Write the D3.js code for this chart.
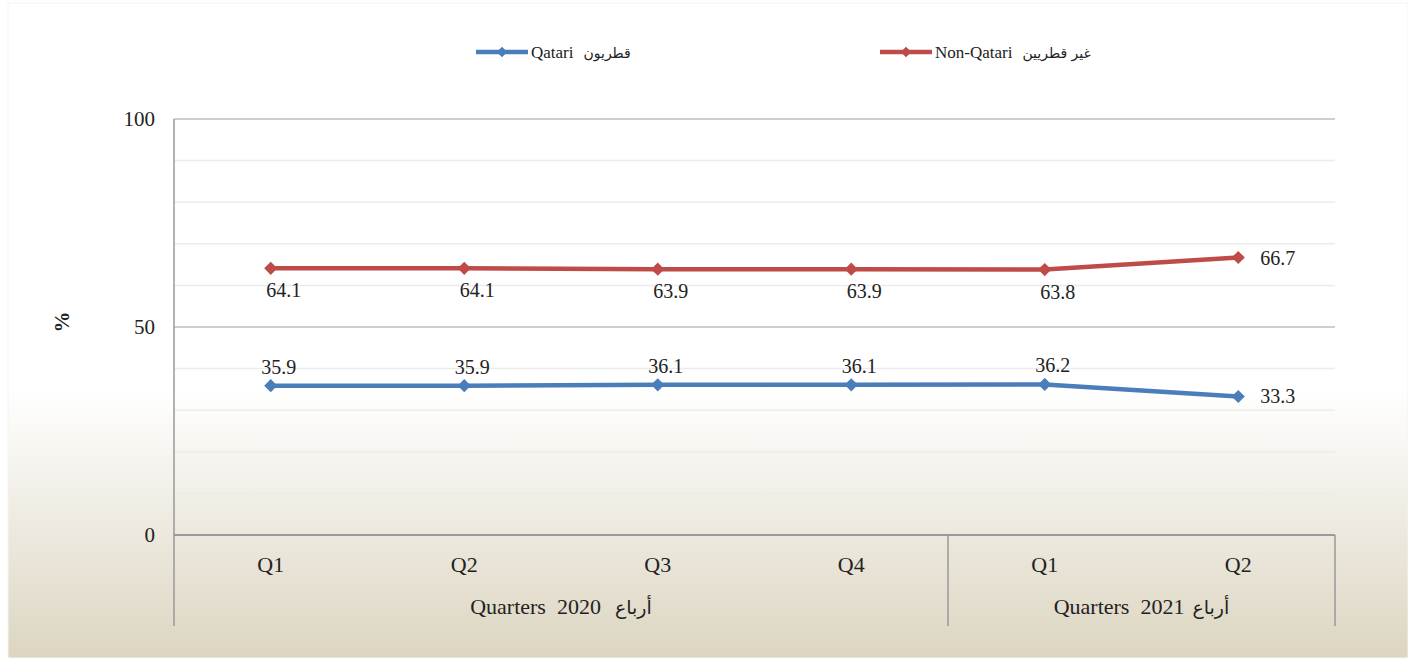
<!DOCTYPE html>
<html>
<head>
<meta charset="utf-8">
<script src="https://cdn.jsdelivr.net/npm/d3@7"></script>
<style>
  body { margin: 0; background: #fff; }
  svg text { font-family: "Liberation Serif", "Times New Roman", serif; white-space: pre; }
  svg text.ar { font-family: "DejaVu Sans", sans-serif; }
</style>
</head>
<body>
<div class="chartDiv"></div>
<script>
// data
var quarters   = ["Q1", "Q2", "Q3", "Q4", "Q1", "Q2"];
var groups     = [{en: "Quarters  2020", ar: "أرباع", from: 0, to: 4},
                  {en: "Quarters  2021", ar: "أرباع", from: 4, to: 6}];
var qatari     = [35.9, 35.9, 36.1, 36.1, 36.2, 33.3];
var nonQatari  = [64.1, 64.1, 63.9, 63.9, 63.8, 66.7];
var yTicks     = [0, 50, 100];
var seriesEn   = ["Qatari", "Non-Qatari"];
var seriesAr   = ["قطريون", "غير قطريين"];

var width = 1408, height = 658;
var margin = {top: 119, right: 73, bottom: 123, left: 174};

var svg = d3.select(".chartDiv").append("svg")
  .attr("width", width).attr("height", height);

// background gradient
var grad = svg.append("defs").append("linearGradient")
  .attr("id", "bg").attr("x1", 0).attr("y1", 0).attr("x2", 0).attr("y2", 1);
grad.append("stop").attr("offset", "0%").attr("stop-color", "#ffffff");
grad.append("stop").attr("offset", "59%").attr("stop-color", "#ffffff");
grad.append("stop").attr("offset", "100%").attr("stop-color", "#dcd5c1");
svg.append("rect").attr("x", 8).attr("y", 3).attr("width", width - 8).attr("height", height - 3)
  .attr("fill", "url(#bg)").attr("stroke", "#f3f3f3");

var x = d3.scaleBand().domain(d3.range(quarters.length))
  .range([margin.left, width - margin.right]);
var y = d3.scaleLinear().domain([0, 100]).range([height - margin.bottom, margin.top]);

// english + arabic label pair, laid out left to right
function bilingual(g, en, ar, cx, cy, enSize, arSize, gap, anchorStart){
  var t1 = g.append("text").attr("y", cy).attr("font-size", enSize).attr("fill", "#222").text(en);
  var t2 = g.append("text").attr("class", "ar").attr("y", cy).attr("font-size", arSize)
    .attr("fill", "#222").attr("direction", "rtl").attr("text-anchor", "end").text(ar);
  var w1 = t1.node().getComputedTextLength(), w2 = t2.node().getComputedTextLength();
  var x0 = anchorStart ? cx : cx - (w1 + gap + w2) / 2;
  t1.attr("x", x0);
  t2.attr("x", x0 + w1 + gap);
  // rtl + end anchor puts the visual left edge at x
}

// gridlines
svg.append("g").selectAll("line").data(d3.range(10, 100, 10).filter(function(d){ return d !== 50; }))
  .enter().append("line")
  .attr("x1", margin.left).attr("x2", width - margin.right)
  .attr("y1", function(d){ return y(d); }).attr("y2", function(d){ return y(d); })
  .attr("stroke", "#ececec").attr("stroke-width", 1.5);
svg.append("g").selectAll("line").data([50, 100])
  .enter().append("line")
  .attr("x1", margin.left).attr("x2", width - margin.right)
  .attr("y1", function(d){ return y(d); }).attr("y2", function(d){ return y(d); })
  .attr("stroke", "#bfbfbf").attr("stroke-width", 1.5);

// y axis
svg.append("line").attr("x1", margin.left).attr("x2", margin.left)
  .attr("y1", y(100)).attr("y2", 626).attr("stroke", "#999").attr("stroke-width", 1.5);
svg.append("g").selectAll("text").data(yTicks).enter().append("text")
  .attr("x", 155).attr("y", function(d){ return y(d); }).attr("dy", "0.35em")
  .attr("text-anchor", "end").attr("font-size", 21).attr("fill", "#222")
  .text(function(d){ return d; });
svg.append("text").attr("transform", "translate(62,322) rotate(-90)")
  .attr("text-anchor", "middle").attr("dy", "0.35em")
  .attr("font-size", 21).attr("font-weight", "bold").attr("fill", "#222").text("%");

// x axis
svg.append("line").attr("x1", margin.left).attr("x2", width - margin.right)
  .attr("y1", y(0)).attr("y2", y(0)).attr("stroke", "#999").attr("stroke-width", 2);
var seps = [groups[0].to, groups[1].to];
svg.append("g").selectAll("line").data(seps).enter().append("line")
  .attr("x1", function(d){ return x(d - 1) + x.bandwidth(); })
  .attr("x2", function(d){ return x(d - 1) + x.bandwidth(); })
  .attr("y1", y(0)).attr("y2", 626).attr("stroke", "#999").attr("stroke-width", 1.5);
svg.append("g").selectAll("text").data(quarters).enter().append("text")
  .attr("x", function(d, i){ return x(i) + x.bandwidth() / 2; })
  .attr("y", 572).attr("text-anchor", "middle").attr("font-size", 22).attr("fill", "#222")
  .text(function(d){ return d; });
var glG = svg.append("g");
groups.forEach(function(d, k){
  var cx = (x(d.from) + x(d.to - 1) + x.bandwidth()) / 2;
  bilingual(glG, d.en, d.ar, cx, 614, 22, 19, k === 0 ? 14 : 8, false);
});

// series
var series = [
  {en: seriesEn[0], ar: seriesAr[0], values: qatari, color: "#4a7ebb", above: true},
  {en: seriesEn[1], ar: seriesAr[1], values: nonQatari, color: "#be4b48", above: false}
];
var line = d3.line()
  .x(function(d, i){ return x(i) + x.bandwidth() / 2; })
  .y(function(d){ return y(d); });
var diamond = d3.symbol().type(d3.symbolDiamond2).size(110);

series.forEach(function(s){
  svg.append("path").datum(s.values).attr("d", line)
    .attr("fill", "none").attr("stroke", s.color).attr("stroke-width", 4.5)
    .attr("stroke-linejoin", "round");
  svg.append("g").selectAll("path").data(s.values).enter().append("path")
    .attr("d", diamond)
    .attr("transform", function(d, i){ return "translate(" + (x(i) + x.bandwidth() / 2) + "," + y(d) + ")"; })
    .attr("fill", s.color);
  svg.append("g").selectAll("text").data(s.values).enter().append("text")
    .attr("x", function(d, i){
      var cx = x(i) + x.bandwidth() / 2;
      return i === s.values.length - 1 ? cx + 22 : cx + (s.above ? 8 : 13);
    })
    .attr("y", function(d, i){
      if (i === s.values.length - 1) return y(d);
      return s.above ? y(d) - 19 : y(d) + 22;
    })
    .attr("dy", "0.35em")
    .attr("text-anchor", function(d, i){ return i === s.values.length - 1 ? "start" : "middle"; })
    .attr("font-size", 20).attr("fill", "#222")
    .text(function(d){ return d.toFixed(1); });
});

// legend
var legendX = [476, 880];
series.forEach(function(s, k){
  var lg = svg.append("g").attr("transform", "translate(" + legendX[k] + ",52)");
  lg.append("line").attr("x1", 0).attr("x2", 52).attr("y1", 0).attr("y2", 0)
    .attr("stroke", s.color).attr("stroke-width", 4.5);
  lg.append("path").attr("d", d3.symbol().type(d3.symbolDiamond2).size(70))
    .attr("transform", "translate(26,0)").attr("fill", s.color);
  bilingual(lg, s.en, s.ar, 55, 58 - 52, 17, 14, 10, true);
});
</script>
</body>
</html>
